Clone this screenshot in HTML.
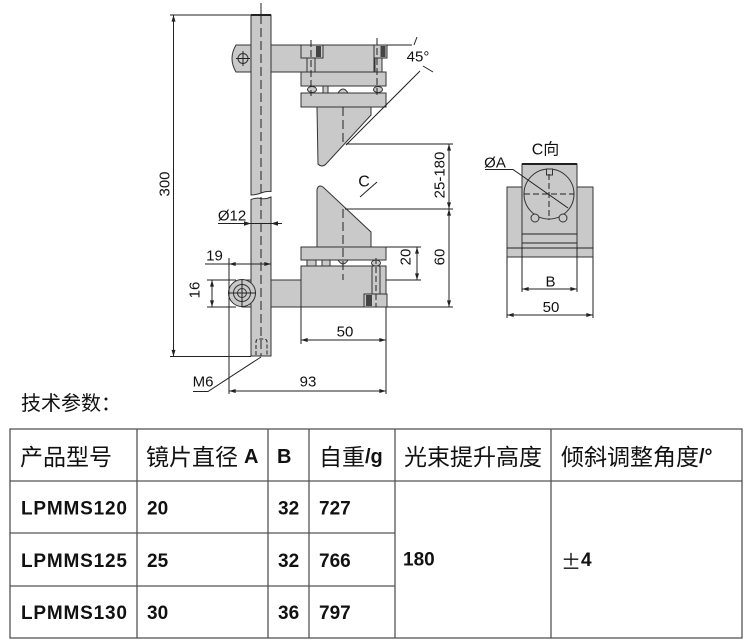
<!DOCTYPE html>
<html>
<head>
<meta charset="utf-8">
<style>
  html,body{margin:0;padding:0;background:#fff;}
  svg{display:block;}
  text{font-family:"Liberation Sans","Noto Sans CJK SC",sans-serif;fill:#111;}
</style>
</head>
<body>
<svg width="750" height="642" viewBox="0 0 750 642" xmlns="http://www.w3.org/2000/svg">
  <defs>
    <marker id="ar" viewBox="0 0 8 6" refX="8" refY="3" markerWidth="7" markerHeight="5" markerUnits="userSpaceOnUse" orient="auto-start-reverse">
      <path d="M0,0.6 L8,3 L0,5.4 z" fill="#222"/>
    </marker>
  </defs>

  <!-- ================= MAIN DRAWING ================= -->
  <g fill="#c9c9c9" stroke="#333" stroke-width="1">
    <path d="M236,45 H374 V72 H236 Q228,58.5 236,45 Z"/>
    <rect x="301" y="45" width="22" height="13"/>
    <rect x="374" y="45" width="13" height="13"/>
    <rect x="307" y="58" width="8" height="14"/>
    <rect x="375" y="58" width="7" height="14"/>
    <rect x="301" y="72" width="85" height="14"/>
    <ellipse cx="312" cy="89.5" rx="4.5" ry="3"/>
    <rect x="323" y="86" width="5" height="7"/>
    <path d="M338,93 Q343,85 348,93 Z"/>
    <ellipse cx="378" cy="89.5" rx="4.5" ry="3"/>
    <rect x="301" y="93" width="85" height="14"/>
    <path d="M317,107 H371 V115 L326,164 Q322,168 318,164 Z"/>

    <path d="M317,247 V190 Q318,184 323,187 L371,232 V247 Z"/>
    <rect x="301" y="247" width="85" height="13"/>
    <rect x="307" y="260" width="9" height="6"/>
    <rect x="322" y="260" width="8" height="6"/>
    <path d="M338,260 Q343,268 348,260 Z"/>
    <ellipse cx="376" cy="263" rx="4.5" ry="3"/>
    <rect x="301" y="266" width="85" height="41"/>
    <rect x="242" y="280" width="59" height="27"/>
    <rect x="372" y="266" width="8" height="28"/>
    <rect x="364" y="294" width="23" height="13"/>

    <path d="M251,15 H271 V191.5 Q266,191 261,193 T251,195 Z"/>
    <path d="M251,199.5 Q256,197.5 261,198.5 T271,197 V356 H251 Z"/>

    <circle cx="242" cy="293" r="13.5"/>
    <circle cx="242" cy="293" r="8.5"/>
    <circle cx="242" cy="293" r="4.5"/>
    <circle cx="243" cy="58.5" r="5"/>
  </g>
  <g fill="#444">
    <rect x="316" y="46" width="5" height="11"/>
    <rect x="380.5" y="46" width="5" height="11"/>
    <rect x="366" y="295" width="6" height="11"/>
  </g>
  <line x1="251" y1="15" x2="271" y2="15" stroke="#222" stroke-width="2"/>

  <g stroke="#222" stroke-width="1" fill="none">
    <line x1="236" y1="58.5" x2="250" y2="58.5"/>
    <line x1="243" y1="51" x2="243" y2="66"/>
    <line x1="228" y1="293" x2="256" y2="293"/>
    <line x1="242" y1="279" x2="242" y2="307"/>
    <line x1="261" y1="3" x2="261" y2="15"/>
    <line x1="261" y1="15" x2="261" y2="356" stroke-dasharray="9,4"/>
    <line x1="311" y1="40" x2="311" y2="96" stroke-dasharray="7,3"/>
    <line x1="377" y1="38" x2="377" y2="96" stroke-dasharray="7,3"/>
    <line x1="343" y1="107" x2="343" y2="143" stroke-dasharray="9,4"/>
    <line x1="343" y1="209" x2="343" y2="280" stroke-dasharray="9,4"/>
    <line x1="376" y1="258" x2="376" y2="307" stroke-dasharray="6,3"/>
    <path d="M256,355 V342 Q256,339 259,339 H264 Q267,339 267,342 V355" stroke-dasharray="4,2"/>

    <line x1="387" y1="45" x2="412" y2="45"/>
    <line x1="414" y1="45" x2="417" y2="37"/>
    <line x1="420" y1="71" x2="346" y2="145"/>
    <line x1="423" y1="66" x2="433" y2="72"/>

    <line x1="346" y1="144" x2="453" y2="144"/>
    <line x1="345" y1="209" x2="453" y2="209"/>
    <line x1="386" y1="307" x2="453" y2="307"/>
    <line x1="449" y1="144" x2="449" y2="209" marker-start="url(#ar)" marker-end="url(#ar)"/>
    <line x1="449" y1="209" x2="449" y2="307" marker-start="url(#ar)" marker-end="url(#ar)"/>

    <line x1="386" y1="247" x2="421" y2="247"/>
    <line x1="386" y1="280" x2="421" y2="280"/>
    <line x1="417" y1="247" x2="417" y2="280" marker-start="url(#ar)" marker-end="url(#ar)"/>

    <line x1="170" y1="15" x2="251" y2="15"/>
    <line x1="170" y1="356.5" x2="251" y2="356.5"/>
    <line x1="173.5" y1="15" x2="173.5" y2="356.5" marker-start="url(#ar)" marker-end="url(#ar)"/>

    <line x1="218" y1="223.5" x2="282" y2="223.5"/>
    <line x1="205" y1="264" x2="229" y2="264"/>
    <line x1="229" y1="264" x2="271" y2="264" marker-start="url(#ar)" marker-end="url(#ar)"/>
    <line x1="229" y1="258" x2="229" y2="394"/>

    <line x1="207" y1="280" x2="236" y2="280"/>
    <line x1="207" y1="307" x2="236" y2="307"/>
    <line x1="212" y1="280" x2="212" y2="307" marker-start="url(#ar)" marker-end="url(#ar)"/>

    <line x1="301" y1="307" x2="301" y2="344"/>
    <line x1="386" y1="307" x2="386" y2="394"/>
    <line x1="301" y1="340" x2="386" y2="340" marker-start="url(#ar)" marker-end="url(#ar)"/>
    <line x1="229" y1="391" x2="386" y2="391" marker-start="url(#ar)" marker-end="url(#ar)"/>
    <path d="M193,391.5 H208 L261,357"/>

    <line x1="360" y1="197" x2="377" y2="182"/>
  </g>
  <g fill="#222">
    <path d="M251,223.5 l-7,-2.3 v4.6 z"/>
    <path d="M271,223.5 l7,-2.3 v4.6 z"/>
  </g>

  <g font-size="15" text-anchor="middle" dominant-baseline="central">
    <text x="418" y="57">45°</text>
    <text transform="translate(440,175) rotate(-90)">25-180</text>
    <text transform="translate(440,257) rotate(-90)">60</text>
    <text transform="translate(406,257) rotate(-90)">20</text>
    <text transform="translate(165,184) rotate(-90)">300</text>
    <text transform="translate(195,290) rotate(-90)">16</text>
    <text x="232" y="216">Ø12</text>
    <text x="214.5" y="256">19</text>
    <text x="345" y="332">50</text>
    <text x="308" y="382">93</text>
    <text x="203" y="382">M6</text>
    <text x="364" y="182" font-size="16">C</text>
  </g>

  <!-- ================= C VIEW ================= -->
  <g fill="#c9c9c9" stroke="#333" stroke-width="1">
    <rect x="507" y="187" width="86" height="70"/>
    <rect x="522" y="164" width="55" height="84"/>
    <circle cx="549" cy="194" r="25"/>
    <rect x="546.5" y="169" width="6" height="6"/>
    <circle cx="535" cy="218" r="4"/>
    <circle cx="563" cy="218" r="4"/>
  </g>
  <g stroke="#222" stroke-width="1" fill="none">
    <line x1="522" y1="164" x2="577" y2="164" stroke-width="2"/>
    <line x1="522" y1="234" x2="577" y2="234"/>
    <line x1="522" y1="243" x2="577" y2="243"/>
    <line x1="507" y1="248" x2="593" y2="248"/>
    <line x1="524" y1="194" x2="574" y2="194" stroke-dasharray="6,3"/>
    <line x1="549" y1="174" x2="549" y2="220" stroke-dasharray="6,3"/>
    <path d="M485,169.5 H513 L568,208"/>
    <line x1="522" y1="248" x2="522" y2="292"/>
    <line x1="577" y1="248" x2="577" y2="292"/>
    <line x1="507" y1="257" x2="507" y2="318"/>
    <line x1="593" y1="257" x2="593" y2="318"/>
    <line x1="522" y1="289" x2="577" y2="289" marker-start="url(#ar)" marker-end="url(#ar)"/>
    <line x1="507" y1="315" x2="593" y2="315" marker-start="url(#ar)" marker-end="url(#ar)"/>
  </g>
  <g font-size="15" text-anchor="middle" dominant-baseline="central">
    <text x="545.5" y="150" font-size="16">C向</text>
    <text x="495" y="163">ØA</text>
    <text x="550.5" y="282">B</text>
    <text x="551" y="307.5">50</text>
  </g>

  <!-- ================= TABLE ================= -->
  <text x="21" y="404" font-size="20" dominant-baseline="central">技术参数：</text>

  <g stroke="#555" stroke-width="1.3" fill="none">
    <rect x="10" y="429" width="732" height="209"/>
    <line x1="10" y1="481" x2="742" y2="481"/>
    <line x1="10" y1="533" x2="395" y2="533"/>
    <line x1="10" y1="586" x2="395" y2="586"/>
    <line x1="137" y1="429" x2="137" y2="638"/>
    <line x1="268" y1="429" x2="268" y2="638"/>
    <line x1="309" y1="429" x2="309" y2="638"/>
    <line x1="395" y1="429" x2="395" y2="638"/>
    <line x1="551" y1="429" x2="551" y2="638"/>
  </g>

  <g dominant-baseline="central">
    <text x="20" y="457" font-size="23">产品型号</text>
    <text x="146" y="457"><tspan font-size="23">镜片直径</tspan><tspan font-size="20" font-weight="bold" dx="6">A</tspan></text>
    <text x="277" y="457" font-size="20" font-weight="bold">B</text>
    <text x="319" y="457"><tspan font-size="23">自重</tspan><tspan font-size="20" font-weight="bold">/g</tspan></text>
    <text x="404" y="457" font-size="23">光束提升高度</text>
    <text x="561" y="457"><tspan font-size="23">倾斜调整角度</tspan><tspan font-size="20" font-weight="bold">/°</tspan></text>

    <g font-size="19" font-weight="bold">
      <text x="21" y="509" textLength="106">LPMMS120</text>
      <text x="147" y="509">20</text>
      <text x="278" y="509">32</text>
      <text x="319" y="509">727</text>

      <text x="21" y="561.5" textLength="106">LPMMS125</text>
      <text x="147" y="561.5">25</text>
      <text x="278" y="561.5">32</text>
      <text x="319" y="561.5">766</text>

      <text x="21" y="613.5" textLength="106">LPMMS130</text>
      <text x="147" y="613.5">30</text>
      <text x="278" y="613.5">36</text>
      <text x="319" y="613.5">797</text>

      <text x="403" y="560">180</text>
      <text x="561" y="560"><tspan font-weight="normal" font-size="20" style="font-family:'Noto Sans CJK SC','WenQuanYi Zen Hei',sans-serif">±</tspan><tspan>4</tspan></text>
    </g>
  </g>
</svg>
</body>
</html>
